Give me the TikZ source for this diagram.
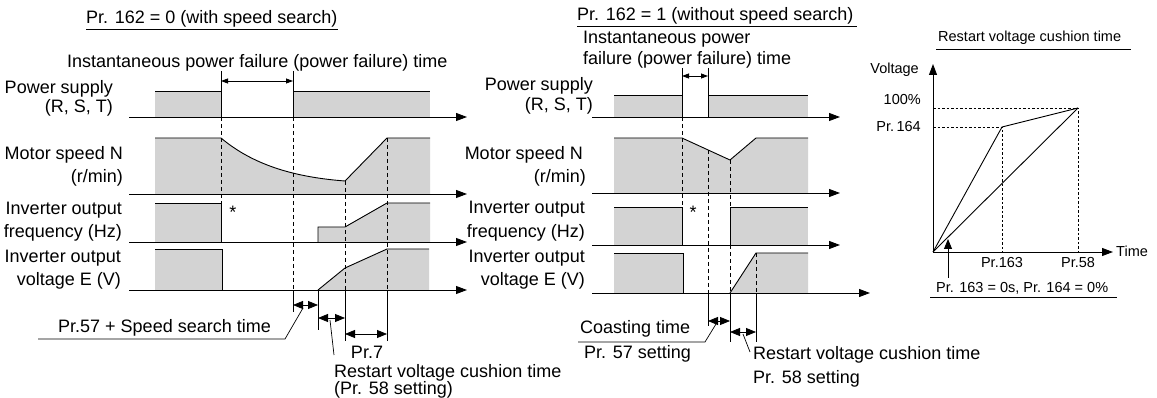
\documentclass[tikz,border=0pt]{standalone}
\usepackage{fontspec}
\setmainfont{Liberation Sans}
\usetikzlibrary{arrows.meta}
\definecolor{fillg}{RGB}{211,211,211}
\begin{document}
\begin{tikzpicture}[x=1pt,y=-1pt,
  lbl/.style={font=\fontsize{18}{18}\selectfont, inner sep=0pt},
  small/.style={font=\fontsize{14.5}{15}\selectfont, inner sep=0pt},
  ln/.style={line width=0.9pt},
  thin/.style={line width=0.7pt},
  axis/.style={line width=0.9pt, -{Triangle[length=11pt,width=8pt]}},
  dsh/.style={line width=0.7pt, dash pattern=on 4pt off 3pt},
  dot/.style={line width=0.7pt, dash pattern=on 2.5pt off 2pt},
  dim/.style={line width=0.8pt, {Triangle[length=10pt,width=8pt]}-{Triangle[length=10pt,width=8pt]}},
  dimsmall/.style={line width=0.8pt, {Triangle[length=7pt,width=5pt]}-{Triangle[length=7pt,width=5pt]}},
  gfill/.style={fill=fillg, draw=none},
]
\useasboundingbox (0,0) rectangle (1157,398);

% ================= LEFT PANEL =================
% fills
\fill[fillg] (155,91) rectangle (221,117);
\fill[fillg] (293,91) rectangle (430,117);
\fill[fillg] (155,138) -- (221,138) .. controls (252,164) and (292,177) .. (345,181) -- (387,138) -- (430,138) -- (430,194) -- (155,194) -- cycle;
\fill[fillg] (155,203) rectangle (221,242);
\fill[fillg] (318,242) -- (318,227) -- (345,227) -- (387,203) -- (430,203) -- (430,242) -- cycle;
\fill[fillg] (155,249) rectangle (222,290);
\fill[fillg] (318,290) -- (345,268) -- (387,249) -- (429,249) -- (429,290) -- cycle;

% dashed guides
\draw[dsh] (221,117) -- (221,203);
\draw[dsh] (293,117) -- (293,290);
\draw[dsh] (345,181) -- (345,290);
\draw[dsh] (387,138) -- (387,290);

% outlines
\draw[ln] (155,91) -- (221,91) -- (221,117);
\draw[ln] (293,117) -- (293,91) -- (430,91);
\draw[ln] (155,138) -- (221,138) .. controls (252,164) and (292,177) .. (345,181) -- (387,138) -- (430,138);
\draw[ln] (155,203) -- (221,203) -- (221,242);
\draw[ln] (318,242) -- (318,227) -- (345,227) -- (387,203) -- (430,203);
\draw[ln] (155,249) -- (222,249) -- (222,290);
\draw[ln] (318,290) -- (345,268) -- (387,249) -- (429,249);

% axes
\coordinate (La1) at (129,117); \coordinate (Lb1) at (467,117);
\coordinate (La2) at (129,194); \coordinate (Lb2) at (467,194);
\coordinate (La3) at (129,242); \coordinate (Lb3) at (467,242);
\coordinate (La4) at (129,290); \coordinate (Lb4) at (467,290);
\draw[axis] (La1) -- (Lb1);
\draw[axis] (La2) -- (Lb2);
\draw[axis] (La3) -- (Lb3);
\draw[axis] (La4) -- (Lb4);

% dimension lines
\draw[thin] (221,71) -- (221,117);
\draw[thin] (293,71) -- (293,117);
\coordinate (Lpf1) at (221,81); \coordinate (Lpf2) at (293,81);
\draw[dimsmall] (Lpf1) -- (Lpf2);
\draw[thin] (293,290) -- (293,312);
\draw[thin] (318,290) -- (318,330);
\draw[thin] (345,290) -- (345,341);
\draw[thin] (387,290) -- (387,341);
\coordinate (Ld1a) at (293,305); \coordinate (Ld1b) at (318,305);
\coordinate (Ld2a) at (318,318); \coordinate (Ld2b) at (345,318);
\coordinate (Ld3a) at (345,334); \coordinate (Ld3b) at (387,334);
\draw[dim] (Ld1a) -- (Ld1b);
\draw[dim] (Ld2a) -- (Ld2b);
\draw[dim] (Ld3a) -- (Ld3b);
% leaders
\coordinate (Lq1) at (38,339); \coordinate (Lq2) at (285,339); \coordinate (Lq3) at (303,308);
\draw[thin] (Lq1) -- (Lq2) -- (Lq3);
\coordinate (Lr1) at (330,320); \coordinate (Lr2) at (334,355);
\draw[thin] (Lr1) -- (Lr2);

% texts
\node[lbl, anchor=base west] (Ltitle) at (86,24) {Pr. 162 = 0 (with speed search)};
\draw[thin] (86,29) -- (338,29);
\node[lbl, anchor=base west] (Linst) at (67,68) {Instantaneous power failure (power failure) time};
\node[lbl, anchor=base east] (Lps1) at (113,94) {Power supply};
\node[lbl, anchor=base east] (Lps2) at (113,112.5) {(R, S, T)};
\node[lbl, anchor=base east] (Lms1) at (123,160) {Motor speed N};
\node[lbl, anchor=base east] (Lms2) at (123,183) {(r/min)};
\node[lbl, anchor=base east] (Lfr1) at (122,215) {Inverter output};
\node[lbl, anchor=base east] (Lfr2) at (122,238) {frequency (Hz)};
\node[lbl, anchor=base east] (Lvo1) at (121,263) {Inverter output};
\node[lbl, anchor=base east] (Lvo2) at (121,286) {voltage E (V)};
\node[lbl, anchor=center] (Lstar) at (233,212) {*};
\node[lbl, anchor=base west] (Lpr57) at (58,332) {Pr.57 + Speed search time};
\node[lbl, anchor=base] (Lpr7) at (367,358) {Pr.7};
\node[lbl, anchor=base west] (Lrv1) at (334,377) {Restart voltage cushion time};
\node[lbl, anchor=base west] (Lrv2) at (334,394) {(Pr. 58 setting)};

% ================= MIDDLE PANEL =================
\fill[fillg] (614,95) rectangle (682,117);
\fill[fillg] (708,95) rectangle (808,117);
\fill[fillg] (614,138) -- (682,138) -- (730,160) -- (756,138) -- (808,138) -- (808,193) -- (614,193) -- cycle;
\fill[fillg] (614,207) rectangle (682,245);
\fill[fillg] (730,207) rectangle (808,245);
\fill[fillg] (614,253) rectangle (683,293);
\fill[fillg] (730,293) -- (756,253) -- (808,253) -- (808,293) -- cycle;

\draw[dsh] (682,117) -- (682,207);
\draw[dsh] (708,150) -- (708,293);
\draw[dsh] (730,160) -- (730,207);
\draw[dsh] (730,245) -- (730,293);
\draw[dsh] (756,253) -- (756,293);

\draw[ln] (614,95) -- (682,95) -- (682,117);
\draw[ln] (708,117) -- (708,95) -- (808,95);
\draw[ln] (614,138) -- (682,138) -- (730,160) -- (756,138) -- (808,138);
\draw[ln] (614,207) -- (682,207) -- (682,245);
\draw[ln] (730,245) -- (730,207) -- (808,207);
\draw[ln] (614,253) -- (683,253) -- (683,293);
\draw[ln] (730,293) -- (756,253) -- (808,253);

\coordinate (Ma1) at (592,117); \coordinate (Mb1) at (840,117);
\coordinate (Ma2) at (592,193); \coordinate (Mb2) at (840,193);
\coordinate (Ma3) at (592,245); \coordinate (Mb3) at (840,245);
\coordinate (Ma4) at (592,293); \coordinate (Mb4) at (870,293);
\draw[axis] (Ma1) -- (Mb1);
\draw[axis] (Ma2) -- (Mb2);
\draw[axis] (Ma3) -- (Mb3);
\draw[axis] (Ma4) -- (Mb4);

\draw[thin] (682,68) -- (682,117);
\draw[thin] (708,68) -- (708,117);
\coordinate (Mpf1) at (682,76); \coordinate (Mpf2) at (708,76);
\draw[dimsmall] (Mpf1) -- (Mpf2);
\draw[thin] (708,293) -- (708,326);
\draw[thin] (730,293) -- (730,342);
\draw[thin] (756,293) -- (756,342);
\coordinate (Md1a) at (708,321); \coordinate (Md1b) at (730,321);
\coordinate (Md2a) at (730,332); \coordinate (Md2b) at (756,332);
\draw[dim] (Md1a) -- (Md1b);
\draw[dim] (Md2a) -- (Md2b);
\coordinate (Mq1) at (578,342); \coordinate (Mq2) at (705,342); \coordinate (Mq3) at (716,324);
\draw[thin] (Mq1) -- (Mq2) -- (Mq3);
\coordinate (Mr1) at (743,334); \coordinate (Mr2) at (750,352);
\draw[thin] (Mr1) -- (Mr2);

\node[lbl, anchor=base west] (Mtitle) at (577,21) {Pr. 162 = 1 (without speed search)};
\draw[thin] (577,26) -- (857,26);
\node[lbl, anchor=base west] (Minst1) at (583,44) {Instantaneous power};
\node[lbl, anchor=base west] (Minst2) at (583,65) {failure (power failure) time};
\node[lbl, anchor=base east] (Mps1) at (593,91) {Power supply};
\node[lbl, anchor=base east] (Mps2) at (593,111) {(R, S, T)};
\node[lbl, anchor=base east] (Mms1) at (583,160) {Motor speed N};
\node[lbl, anchor=base east] (Mms2) at (586,183) {(r/min)};
\node[lbl, anchor=base east] (Mfr1) at (585,214) {Inverter output};
\node[lbl, anchor=base east] (Mfr2) at (585,238) {frequency (Hz)};
\node[lbl, anchor=base east] (Mvo1) at (585,263) {Inverter output};
\node[lbl, anchor=base east] (Mvo2) at (585,286) {voltage E (V)};
\node[lbl, anchor=center] (Mstar) at (693,212) {*};
\node[lbl, anchor=base west] (Mcoast) at (580,333) {Coasting time};
\node[lbl, anchor=base west] (Mpr57) at (584,358) {Pr. 57 setting};
\node[lbl, anchor=base west] (Mrv1) at (753,359) {Restart voltage cushion time};
\node[lbl, anchor=base west] (Mrv2) at (753,383) {Pr. 58 setting};

% ================= RIGHT PANEL =================
\node[small, anchor=base west] (Rtitle) at (938,42) {Restart voltage cushion time};
\draw[thin] (936,49) -- (1131,49);
\coordinate (O) at (933,252);
\coordinate (Ytip) at (933,64);
\coordinate (Xtip) at (1113,252);
\coordinate (P1) at (1002,127);
\coordinate (P2) at (1078,108);
\draw[dot] (933,108) -- (P2) -- (1078,252);
\draw[dot] (933,127) -- (P1) -- (1002,252);
\draw[ln] (O) -- (P1) -- (P2);
\draw[ln] (O) -- (P2);
\draw[axis] (O) -- (Ytip);
\draw[axis] (O) -- (Xtip);
\node[small, anchor=base east] (Rvolt) at (919,74) {Voltage};
\node[small, anchor=base east] (R100) at (921,105) {100\%};
\node[small, anchor=base east] (R164) at (921,132) {Pr.\,164};
\node[small, anchor=base] (R163) at (1002,268) {Pr.163};
\node[small, anchor=base] (R58) at (1078,268) {Pr.58};
\node[small, anchor=base west] (Rtime) at (1116,257) {Time};
\coordinate (Ra1) at (948,278); \coordinate (Ra2) at (948,239);
\draw[line width=0.9pt, -{Triangle[length=10pt,width=8pt]}] (Ra1) -- (Ra2);
\node[small, anchor=base west] (Rnote) at (936,292) {Pr. 163 = 0s, Pr. 164 = 0\%};
\draw[thin] (930,297) -- (1117,297);
\end{tikzpicture}
\end{document}
